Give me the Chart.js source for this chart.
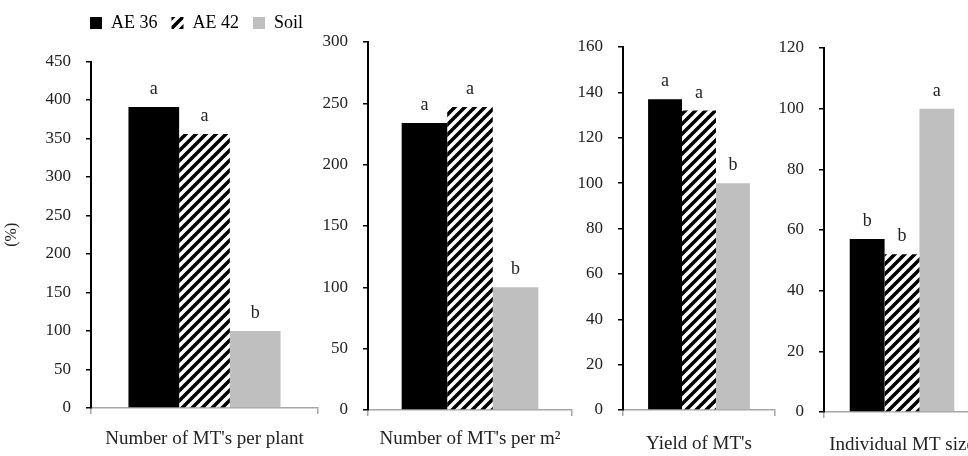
<!DOCTYPE html>
<html>
<head>
<meta charset="utf-8">
<script src="https://cdn.jsdelivr.net/npm/chart.js@4/dist/chart.umd.min.js"></script>
<style>
  html, body { margin: 0; padding: 0; background: #fff; overflow: hidden; }
  body { width: 968px; height: 456px; position: relative; }
  canvas { position: absolute; top: 0; }
</style>
</head>
<body>
<canvas id="c0" width="322" height="456" style="left:0px"></canvas>
<canvas id="c1" width="254" height="456" style="left:322px"></canvas>
<canvas id="c2" width="203" height="456" style="left:576px"></canvas>
<canvas id="c3" width="205" height="456" style="left:779px"></canvas>
<script>
// data
const series = ["AE 36", "AE 42", "Soil"];
const panels = ["Number of MT's per plant", "Number of MT's per m²", "Yield of MT's", "Individual MT size"];
const ae36 = [391, 234, 137, 57];
const ae42 = [356, 247, 132, 52];
const soil = [100, 100, 100, 100];
const letters36 = ["a", "a", "a", "b"];
const letters42 = ["a", "a", "a", "b"];
const lettersSoil = ["b", "b", "b", "a"];
const yMax = [450, 300, 160, 120];
const yStep = [50, 50, 20, 20];

// layout per panel
const yWidth = [91, 46, 47, 45];
const xHeight = [48, 46, 46, 44];
const padTop = [0, 42, 47, 48];
const xPad = [14, 12, 17, 16];

const serif = "'Liberation Serif', 'Times New Roman', serif";

function hatch() {
    const c = document.createElement("canvas");
    c.width = 10;
    c.height = 10;
    const g = c.getContext("2d");
    g.fillStyle = "#fff";
    g.fillRect(0, 0, 10, 10);
    g.strokeStyle = "#000";
    g.lineWidth = 3.5;
    g.beginPath();
    g.moveTo(-5, 5); g.lineTo(5, -5);
    g.moveTo(0, 10); g.lineTo(10, 0);
    g.moveTo(5, 15); g.lineTo(15, 5);
    g.stroke();
    return g.createPattern(c, "repeat");
}
const stripes = hatch();

// letters over the bars
const letterPlugin = {
    id: "letters",
    afterDatasetsDraw(chart) {
        const ctx = chart.ctx;
        ctx.save();
        ctx.font = "18px " + serif;
        ctx.fillStyle = "#222";
        ctx.textAlign = "center";
        ctx.textBaseline = "alphabetic";
        chart.data.datasets.forEach((ds, i) => {
            const bar = chart.getDatasetMeta(i).data[0];
            ctx.fillText(ds.letter, bar.x, bar.y - 13);
        });
        ctx.restore();
    }
};

// legend sits above the first panel, shifted right
const legendPlace = {
    id: "legendPlace",
    beforeLayout(chart) {
        const lg = chart.legend;
        if (lg && !lg._patched) {
            const fit = lg.fit;
            lg.fit = function () { fit.call(this); this.height = 61.5; };
            lg._patched = true;
        }
    },
    afterLayout(chart) {
        const lg = chart.legend;
        lg.left = 76;
        lg.right = 76 + lg.width;
    }
};

panels.forEach((name, p) => {
    const bar = { barPercentage: 1, categoryPercentage: 0.67, borderWidth: 0 };
    new Chart(document.getElementById("c" + p), {
        type: "bar",
        data: {
            labels: [name],
            datasets: [
                { label: series[0], data: [ae36[p]], backgroundColor: "#000", letter: letters36[p], ...bar },
                { label: series[1], data: [ae42[p]], backgroundColor: stripes, letter: letters42[p], ...bar },
                { label: series[2], data: [soil[p]], backgroundColor: "#bfbfbf", letter: lettersSoil[p], ...bar },
            ],
        },
        options: {
            responsive: false,
            animation: false,
            layout: { padding: { top: padTop[p], left: 0, right: 4, bottom: 0 } },
            plugins: {
                legend: {
                    display: p === 0,
                    position: "top",
                    align: "start",
                    labels: { color: "#000", font: { family: serif, size: 18 }, boxWidth: 12, boxHeight: 12, padding: 14 },
                },
                tooltip: { enabled: false },
            },
            scales: {
                x: {
                    ticks: { color: "#222", font: { family: serif, size: 19 }, padding: xPad[p], maxRotation: 0, minRotation: 0 },
                    grid: { display: true, drawOnChartArea: false, tickLength: 6, color: "#a6a6a6", lineWidth: 1.5 },
                    border: { color: "#a6a6a6", width: 1.5 },
                    afterFit(s) {
                        s.height = xHeight[p];
                        s.paddingLeft = 0;
                        s.paddingRight = 0;
                    },
                },
                y: {
                    min: 0,
                    max: yMax[p],
                    ticks: { stepSize: yStep[p], color: "#222", font: { family: serif, size: 17 }, padding: 15 },
                    grid: { display: true, drawOnChartArea: false, tickLength: 5, color: "#000", lineWidth: 1.5 },
                    border: { color: "#000", width: 2 },
                    title: {
                        display: p === 0,
                        text: "(%)",
                        color: "#222",
                        font: { family: serif, size: 16 },
                        padding: { top: 2, bottom: 0 },
                    },
                    afterFit(s) { s.width = yWidth[p]; },
                },
            },
        },
        plugins: p === 0 ? [legendPlace, letterPlugin] : [letterPlugin],
    });
});
</script>
</body>
</html>
